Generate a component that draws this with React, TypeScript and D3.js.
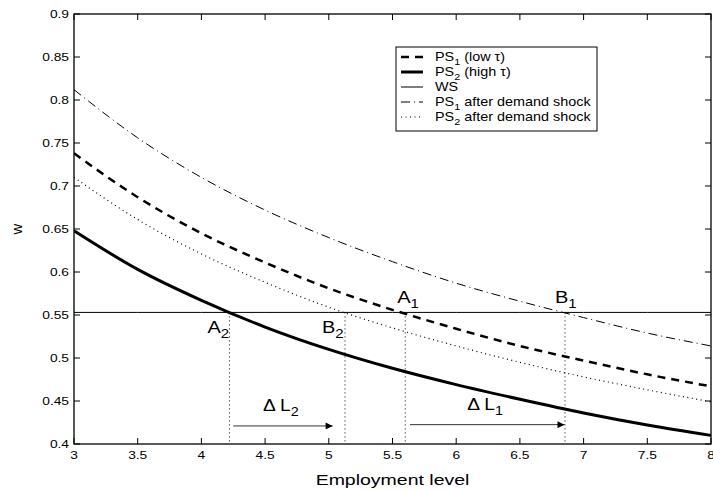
import React from 'react';
import * as d3 from 'd3';

const employment = [3, 3.5, 4, 4.5, 5, 5.5, 6, 6.5, 7, 7.5, 8];
const ps1Low = [0.738, 0.687, 0.645, 0.611, 0.581, 0.556, 0.534, 0.514, 0.497, 0.481, 0.467];
const ps2High = [0.648, 0.603, 0.567, 0.536, 0.51, 0.488, 0.469, 0.452, 0.436, 0.422, 0.41];
const ps1Shock = [0.812, 0.756, 0.71, 0.672, 0.64, 0.612, 0.587, 0.566, 0.547, 0.529, 0.514];
const ps2Shock = [0.71, 0.661, 0.621, 0.588, 0.559, 0.535, 0.514, 0.495, 0.478, 0.463, 0.449];
const wsLevel = 0.553;

const xTicks = [3, 3.5, 4, 4.5, 5, 5.5, 6, 6.5, 7, 7.5, 8];
const yTicks = [0.4, 0.45, 0.5, 0.55, 0.6, 0.65, 0.7, 0.75, 0.8, 0.85, 0.9];

// equilibrium points: A2, B2, A1, B1
const points = [
  { name: 'A', sub: '2', x: 4.22, dx: -22, dy: 21 },
  { name: 'B', sub: '2', x: 5.127, dx: -23, dy: 21 },
  { name: 'A', sub: '1', x: 5.6, dx: -8, dy: -9 },
  { name: 'B', sub: '1', x: 6.854, dx: -10, dy: -9 },
];
const arrows = [
  { sub: '2', from: 4.25, to: 5.03, w: 0.421 },
  { sub: '1', from: 5.637, to: 6.85, w: 0.4225 },
];

const font = '"Liberation Sans", Arial, sans-serif';

// text slightly stretched sideways, like the original export
function T({ x, y, sx = 1.25, size, anchor = 'start', children }: any) {
  return (
    <text transform={`translate(${x},${y}) scale(${sx},1)`} fontSize={size} textAnchor={anchor}>
      {children}
    </text>
  );
}

export default function App() {
  const width = 713;
  const height = 490;
  const margin = { top: 14, right: 2, bottom: 46, left: 74 };
  const x = d3.scaleLinear().domain([3, 8]).range([margin.left, width - margin.right]);
  const y = d3.scaleLinear().domain([0.4, 0.9]).range([height - margin.bottom, margin.top]);
  const x0 = x.range()[0], x1 = x.range()[1];
  const y0 = y.range()[0], y1 = y.range()[1];

  const line = d3.line<number>()
    .x((_, i) => x(employment[i]))
    .y(d => y(d))
    .curve(d3.curveMonotoneX);

  const series = [
    { label: 'PS', sub: '1', rest: ' (low \u03c4)', values: ps1Low, w: 2.5, dash: '8,6' },
    { label: 'PS', sub: '2', rest: ' (high \u03c4)', values: ps2High, w: 3, dash: '' },
    { label: 'WS', sub: '', rest: '', values: employment.map(() => wsLevel), w: 1, dash: '' },
    { label: 'PS', sub: '1', rest: ' after demand shock', values: ps1Shock, w: 1, dash: '9,4,1,4' },
    { label: 'PS', sub: '2', rest: ' after demand shock', values: ps2Shock, w: 1.2, dash: '1,3.5' },
  ];

  const legend = { x: 396, y: 47, w: 201, h: 84 };

  return (
    <svg width={width} height={height} style={{ position: 'absolute', left: 0, top: 0, background: '#fff' }}
      fontFamily={font}>
      <defs>
        <marker id="head" viewBox="0 0 10 10" refX="10" refY="5" markerWidth="10" markerHeight="7"
          markerUnits="userSpaceOnUse" orient="auto">
          <path d="M0,0L10,5L0,10Z" fill="#000" />
        </marker>
        <clipPath id="plot">
          <rect x={x0} y={y1} width={x1 - x0} height={y0 - y1} />
        </clipPath>
      </defs>

      {/* vertical dotted guides from WS down to the axis */}
      {points.map((p, i) => (
        <line key={'v' + i} x1={x(p.x)} x2={x(p.x)} y1={y(wsLevel)} y2={y0}
          stroke="#000" strokeWidth={1} strokeDasharray="1,3" />
      ))}

      <g clipPath="url(#plot)">
        {series.map((s, i) => (
          <path key={i} d={line(s.values) || ''} fill="none" stroke="#000"
            strokeWidth={s.w} strokeDasharray={s.dash} />
        ))}
      </g>

      {/* point labels */}
      {points.map((p, i) => (
        <T key={'p' + i} x={x(p.x) + p.dx} y={y(wsLevel) + p.dy} size={16} sx={1.25}>
          {p.name}<tspan fontSize={12} dy={5}>{p.sub}</tspan>
        </T>
      ))}

      {/* employment change arrows */}
      {arrows.map((a, i) => (
        <g key={'a' + i}>
          <line x1={x(a.from)} x2={x(a.to)} y1={y(a.w)} y2={y(a.w)} stroke="#333" strokeWidth={1}
            markerEnd="url(#head)" />
          <T x={(x(a.from) + x(a.to)) / 2 - 20} y={y(a.w) - 15} size={16} sx={1.2}>
            {'\u0394 L'}<tspan fontSize={12} dy={5}>{a.sub}</tspan>
          </T>
        </g>
      ))}

      {/* box and ticks */}
      <rect x={x0} y={y1} width={x1 - x0} height={y0 - y1} fill="none" stroke="#000" strokeWidth={1.3} />
      {xTicks.map(t => (
        <g key={'x' + t}>
          <line x1={x(t)} x2={x(t)} y1={y0} y2={y0 - 6} stroke="#000" />
          <line x1={x(t)} x2={x(t)} y1={y1} y2={y1 + 6} stroke="#000" />
          <T x={x(t)} y={y0 + 15} size={11} anchor="middle">{t}</T>
        </g>
      ))}
      {yTicks.map(t => (
        <g key={'y' + t}>
          <line x1={x0} x2={x0 + 6} y1={y(t)} y2={y(t)} stroke="#000" />
          <line x1={x1} x2={x1 - 6} y1={y(t)} y2={y(t)} stroke="#000" />
          <T x={x0 - 5} y={y(t) + 4} size={11} anchor="end">{t}</T>
        </g>
      ))}

      <T x={(x0 + x1) / 2} y={485} size={15} sx={1.3} anchor="middle">Employment level</T>
      <text x={22} y={(y0 + y1) / 2} fontSize={15} textAnchor="middle"
        transform={`rotate(-90, 22, ${(y0 + y1) / 2})`}>w</text>

      {/* legend */}
      <rect x={legend.x} y={legend.y} width={legend.w} height={legend.h} fill="#fff" stroke="#000" strokeWidth={1} />
      {series.map((s, i) => {
        const ly = legend.y + 10 + i * 15;
        return (
          <g key={'l' + i}>
            <line x1={legend.x + 5} x2={legend.x + 27} y1={ly} y2={ly} stroke="#000"
              strokeWidth={s.w} strokeDasharray={s.dash} />
            <T x={legend.x + 39} y={ly + 4} size={12} sx={1.2}>
              {s.label}
              {s.sub && <tspan fontSize={9} dy={4}>{s.sub}</tspan>}
              {s.rest && <tspan dy={s.sub ? -4 : 0}>{s.rest}</tspan>}
            </T>
          </g>
        );
      })}
    </svg>
  );
}
